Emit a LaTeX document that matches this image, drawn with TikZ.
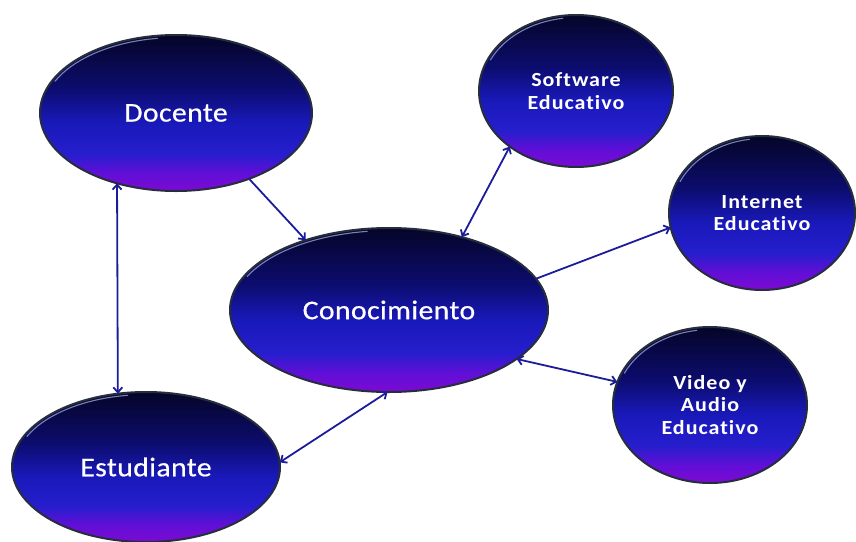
\documentclass[tikz,border=0pt]{standalone}
\usepackage{fontspec}
\setmainfont{Carlito}[FakeStretch=1.1,Ligatures=NoCommon]
\newfontfamily\bigfont{Carlito}[FakeStretch=1.1,FakeBold=0.5,LetterSpace=1.5,Ligatures=NoCommon]
\newfontfamily\spacedfont{Carlito}[FakeStretch=1.1,LetterSpace=5,Ligatures=NoCommon]
\usetikzlibrary{shapes.geometric,arrows.meta,calc}
\definecolor{orbA}{RGB}{125,10,210}
\definecolor{orbB}{RGB}{95,15,215}
\definecolor{orbC}{RGB}{38,30,205}
\definecolor{orbD}{RGB}{25,25,185}
\definecolor{orbE}{RGB}{12,12,110}
\definecolor{orbF}{RGB}{5,5,40}
\definecolor{rimcol}{RGB}{38,45,60}
\definecolor{linkcol}{RGB}{28,28,155}
\definecolor{glint}{RGB}{170,180,235}
\pgfdeclareverticalshading{orbshade}{100bp}{color(0bp)=(orbA); color(25bp)=(orbA); color(31bp)=(orbB); color(37bp)=(orbC); color(47bp)=(orbD); color(58bp)=(orbE); color(75bp)=(orbF); color(100bp)=(orbF)}
\tikzset{
  orbnode/.style={ellipse, shading=orbshade, draw=rimcol, line width=2pt, inner sep=0pt, outer sep=0pt, text=white, align=center,
    path picture={\draw[glint, line width=1.1pt, opacity=0.7, line cap=round]
      let \p1=(path picture bounding box.north east), \p2=(path picture bounding box.center),
          \n1={\x1-\x2-2.6pt}, \n2={\y1-\y2-2.6pt} in
      ($(\p2)+({\n1*cos(98)},{\n2*sin(98)})$) arc[start angle=98, end angle=155, x radius=\n1, y radius=\n2];}},
  bigtext/.style={font=\bigfont\fontsize{27}{30}\selectfont},
  smalltext/.style={font=\spacedfont\bfseries\fontsize{20}{22.5}\selectfont},
  link/.style={draw=linkcol, line width=1.8pt},
  linkboth/.style={link, {Straight Barb[length=5pt,width=9pt]}-{Straight Barb[length=5pt,width=9pt]}},
  linkone/.style={link, -{Straight Barb[length=5pt,width=9pt]}}
}
\begin{document}
\begin{tikzpicture}[x=1pt,y=-1pt]
\useasboundingbox (0,0) rectangle (856,541);
\node[orbnode,bigtext,minimum width=272pt,minimum height=156pt] (doc) at (176,113) {Docente};
\node[orbnode,bigtext,minimum width=318pt,minimum height=164pt] (con) at (389,310) {Conocimiento};
\node[orbnode,bigtext,minimum width=268pt,minimum height=150pt] (est) at (146,467) {Estudiante};
\node[orbnode,smalltext,minimum width=194pt,minimum height=152pt] (sof) at (576,91) {Software\\Educativo};
\node[orbnode,smalltext,minimum width=186pt,minimum height=154pt] (int) at (762,213) {Internet\\Educativo};
\node[orbnode,smalltext,minimum width=194pt,minimum height=156pt] (vid) at (710,405) {Video y\\Audio\\Educativo};
\draw[linkboth] (doc.230.6) -- (est.111.6);
\draw[linkone] (doc.-42.8) -- (con.140);
\draw[linkboth] (con.45) -- (sof.220.3);
\draw[linkone] (con.12.5) -- (int.189.5);
\draw[linkboth] (con.-21.2) -- (vid.166.7);
\draw[linkboth] (est.2) -- (con.269);
\end{tikzpicture}
\end{document}
